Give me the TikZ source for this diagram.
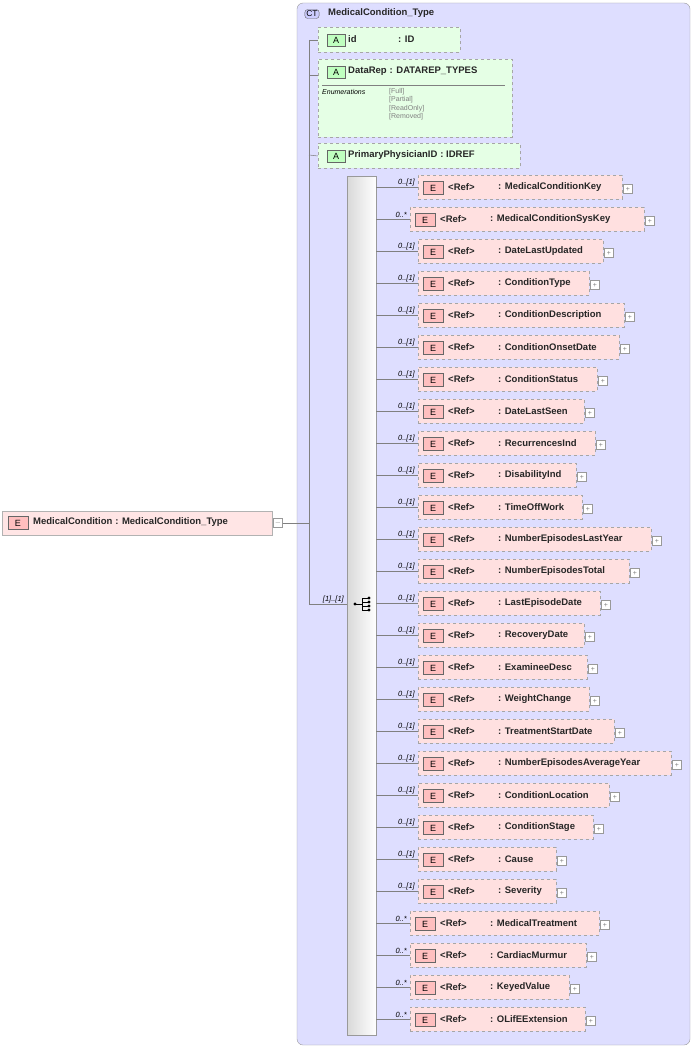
\documentclass[tikz,border=0pt]{standalone}
\usepackage{fontspec}
\setmainfont{Liberation Sans}
\begin{document}
\begin{tikzpicture}[x=1pt,y=-1pt,
 elbox/.style={draw=black!35,dashed,fill=red!12,minimum height=24pt,anchor=west,inner sep=0pt},
 ticon/.style={draw=black!60,fill=red!25,minimum width=20pt,minimum height=13pt,inner sep=0pt,font=\fontsize{9}{9}\selectfont},
 lbl/.style={font=\bfseries\fontsize{9.5}{10}\selectfont,anchor=west,inner sep=0pt,text=black!85},
 card/.style={font=\itshape\fontsize{7.5}{8}\selectfont,anchor=south east,inner sep=1pt},
 pl/.style={draw=black!40,fill=white,minimum size=9pt,inner sep=0pt,font=\fontsize{7}{7}\selectfont,text=black!50},
 ln/.style={draw=black!50,line width=0.5pt}]
\useasboundingbox (0,0) rectangle (694,1049);
% CT box
\draw[black!40,fill=blue!13,rounded corners=6pt] (297,3) rectangle (690,1045);
\node[draw=black!60,fill=blue!20,rounded corners=3pt,inner sep=1.5pt,font=\fontsize{8.5}{9}\selectfont] (ct) at (312,14) {CT};
\node[lbl] (ctname) at (328,13) {MedicalCondition\_Type};
% main element
\node[draw=black!30,fill=red!10,minimum width=270pt,minimum height=24pt,anchor=west,inner sep=0pt] (main) at (2,523) {};
\node[ticon] (mi) at (18,523) {E};
\node[lbl] (ml) at (33,522) {MedicalCondition\hspace{3pt}: MedicalCondition\_Type};
\node[pl] (mm) at (278,523) {$-$};
\coordinate (j) at (309,523);
\draw[ln] (mm) -- (j);
\coordinate (vt) at (309,40);
\coordinate (vb) at (309,604);
\draw[ln] (vt) -- (vb);
% attributes
\tikzset{attr/.style={draw=black!35,dashed,fill=green!10,anchor=north west,inner sep=0pt},
 aicon/.style={draw=black!60,fill=green!25,minimum width=18pt,minimum height=12pt,inner sep=0pt,font=\fontsize{9}{9}\selectfont}}
\node[attr,minimum width=142pt,minimum height=25pt] (a1) at (318,27) {};
\node[attr,minimum width=194pt,minimum height=78pt] (a2) at (318,59) {};
\node[attr,minimum width=202pt,minimum height=25pt] (a3) at (318,143) {};
\node[aicon] (i1) at (336,40) {A};
\node[aicon] (i2) at (336,72) {A};
\node[aicon] (i3) at (336,156) {A};
\node[lbl] at (348,39) {id};
\node[lbl] at (398,39) {: ID};
\node[lbl] at (348,71) {DataRep\hspace{3pt}: DATAREP\_TYPES};
\node[lbl] at (348,155) {PrimaryPhysicianID\hspace{3pt}: IDREF};
\draw[black!50] (322,85) -- (505,85);
\node[font=\itshape\fontsize{7}{8}\selectfont,anchor=north west,inner sep=0pt] at (322,89) {Enumerations};
\node[font=\fontsize{7}{8.5}\selectfont,text=black!50,anchor=north west,inner sep=0pt,align=left] at (389,88) {{[Full]}\\{[Partial]}\\{[ReadOnly]}\\{[Removed]}};
\draw[ln] (vt) -- (a1.west |- i1);
\coordinate (a2j) at (309,75);
\draw[ln] (a2j) -- (318,75);
\draw[ln] (309,155) -- (a3.west |- i3);
% sequence
\node[draw=black!40,left color=black!15,right color=white,minimum width=29pt,minimum height=859pt,anchor=north west,inner sep=0pt] (seq) at (347,176) {};
\draw[ln] (vb) -- (seq.west |- vb);
\node[card,anchor=south east] at (345,604) {[1]..[1]};
% seq icon
\fill (355,604) circle (1.6pt);
\draw (355,604) -- (362,604) (362,598) -- (362,610) (362,598) -- (368,598) (362,602) -- (368,602) (362,606) -- (368,606) (362,610) -- (368,610);
\foreach \yy in {598,602,606,610} \fill (369,\yy) circle (1.6pt);
% elements
\foreach \n/\yy/\r/\c/\nm in {
 1/187/622/1/MedicalConditionKey,
 2/219/644/0/MedicalConditionSysKey,
 3/251/603/1/DateLastUpdated,
 4/283/589/1/ConditionType,
 5/315/624/1/ConditionDescription,
 6/347/619/1/ConditionOnsetDate,
 7/379/597/1/ConditionStatus,
 8/411/584/1/DateLastSeen,
 9/443/595/1/RecurrencesInd,
 10/475/576/1/DisabilityInd,
 11/507/582/1/TimeOffWork,
 12/539/651/1/NumberEpisodesLastYear,
 13/571/629/1/NumberEpisodesTotal,
 14/603/600/1/LastEpisodeDate,
 15/635/584/1/RecoveryDate,
 16/667/587/1/ExamineeDesc,
 17/699/589/1/WeightChange,
 18/731/614/1/TreatmentStartDate,
 19/763/671/1/NumberEpisodesAverageYear,
 20/795/609/1/ConditionLocation,
 21/827/593/1/ConditionStage,
 22/859/556/1/Cause,
 23/891/556/1/Severity,
 24/923/599/0/MedicalTreatment,
 25/955/586/0/CardiacMurmur,
 26/987/569/0/KeyedValue,
 27/1019/585/0/OLifEExtension}{
 \pgfmathsetmacro{\lx}{\c==1 ? 418 : 410}
 \pgfmathsetmacro{\w}{\r-\lx}
 \node[elbox,minimum width=\w pt] (e\n) at (\lx,\yy) {};
 \node[ticon] (t\n) at (\lx+15,\yy+1) {E};
 \node[lbl] (r\n) at (\lx+30,\yy) {<Ref>};
 \node[lbl] (n\n) at (\lx+80,\yy) {: \nm};
 \node[pl] (p\n) at (\r+6,\yy+2) {+};
 \draw[ln] (seq.east |- e\n.west) -- (e\n.west);
 \ifnum\c=1 \node[card] at (416,\yy) {0..[1]};\else \node[card] at (408,\yy) {0..*};\fi
}
\end{tikzpicture}
\end{document}
